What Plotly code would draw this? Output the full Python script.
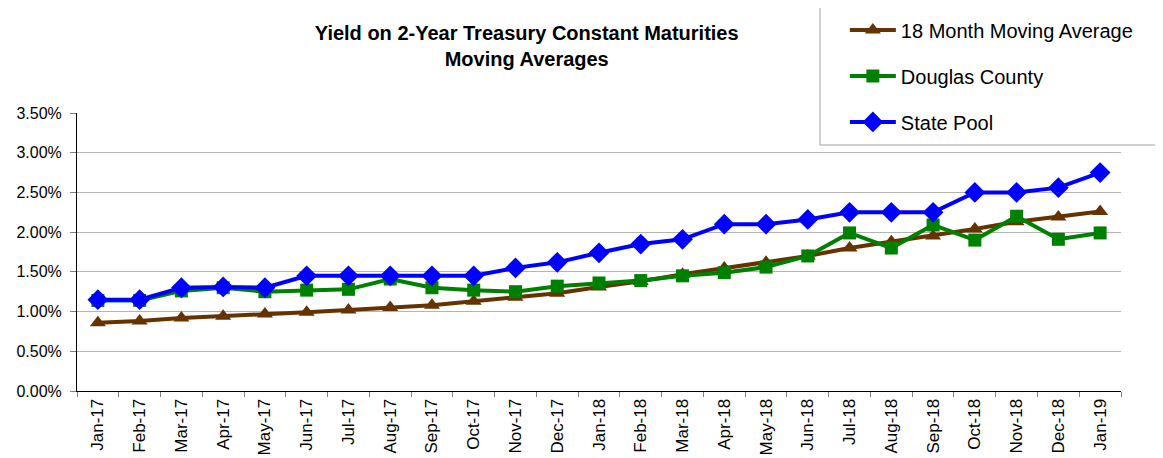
import plotly.graph_objects as go

months = ["Jan-17", "Feb-17", "Mar-17", "Apr-17", "May-17", "Jun-17", "Jul-17", "Aug-17",
          "Sep-17", "Oct-17", "Nov-17", "Dec-17", "Jan-18", "Feb-18", "Mar-18", "Apr-18",
          "May-18", "Jun-18", "Jul-18", "Aug-18", "Sep-18", "Oct-18", "Nov-18", "Dec-18", "Jan-19"]

moving_avg_18m = [0.86, 0.88, 0.92, 0.94, 0.97, 0.99, 1.02, 1.05, 1.08, 1.13, 1.18, 1.23, 1.31,
                  1.38, 1.47, 1.55, 1.62, 1.70, 1.80, 1.88, 1.95, 2.04, 2.13, 2.19, 2.26]
douglas_county = [1.14, 1.14, 1.26, 1.30, 1.25, 1.27, 1.28, 1.41, 1.30, 1.27, 1.25, 1.32, 1.36,
                  1.39, 1.45, 1.49, 1.56, 1.70, 1.99, 1.80, 2.09, 1.90, 2.20, 1.91, 1.99]
state_pool = [1.15, 1.15, 1.30, 1.31, 1.30, 1.45, 1.45, 1.45, 1.45, 1.45, 1.55, 1.62, 1.74,
              1.85, 1.91, 2.10, 2.10, 2.16, 2.25, 2.25, 2.25, 2.50, 2.50, 2.56, 2.75]

series = [
    ("18 Month Moving Average", moving_avg_18m, "#663300", "triangle-up", 14),
    ("Douglas County", douglas_county, "#008000", "square", 13),
    ("State Pool", state_pool, "#0000FF", "diamond", 16),
]

fig = go.Figure()
for i, (name, vals, color, sym, sz) in enumerate(series):
    fig.add_trace(go.Scatter(
        x=months, y=vals, name=name, mode="lines+markers",
        line=dict(color=color, width=4),
        marker=dict(symbol=sym, size=sz, color=color),
        legendgroup=f"g{i}",
    ))

fig.update_layout(
    width=1163, height=458,
    margin=dict(l=69, r=50, t=105, b=75, autoexpand=False),
    paper_bgcolor="white", plot_bgcolor="white",
    font=dict(family="Liberation Sans, Arial, sans-serif", color="black"),
    title=dict(
        text="<b>Yield on 2-Year Treasury Constant Maturities<br>Moving Averages</b>",
        x=0.446, xanchor="center", xref="container",
        y=0.931, yanchor="middle", yref="container",
        font=dict(size=20, color="black"),
    ),
    showlegend=True,
    legend=dict(
        x=0.7355, xanchor="left", y=1.369, yanchor="top",
        bgcolor="rgba(0,0,0,0)", borderwidth=0,
        font=dict(size=20, color="black"),
        tracegroupgap=17, itemwidth=46,
    ),
    shapes=[dict(
        type="rect", xref="paper", yref="paper",
        x0=(820 - 77) / 1044, x1=(1160 - 77) / 1044,
        y0=(391 - 145) / 278, y1=(391 - 5) / 278,
        line=dict(color="#a0a0a0", width=1), fillcolor="white", layer="below",
    )],
)

fig.update_xaxes(
    type="category", range=[-0.5, len(months) - 0.5], tickangle=-90, tickson="boundaries",
    ticks="outside", ticklen=5, tickcolor="#808080",
    showline=True, linecolor="black", linewidth=1,
    showgrid=False, automargin=False,
    tickfont=dict(size=17, color="black"),
)
fig.update_yaxes(
    range=[0, 3.5], dtick=0.5, tickformat=".2f", ticksuffix="%",
    ticks="outside", ticklen=6, tickcolor="#808080", ticklabelstandoff=5,
    showline=True, linecolor="black", linewidth=1,
    showgrid=True, gridcolor="#b4b4b4", gridwidth=1,
    zeroline=False, automargin=False,
    tickfont=dict(size=16, color="black"),
)

fig.write_html("out.html")
